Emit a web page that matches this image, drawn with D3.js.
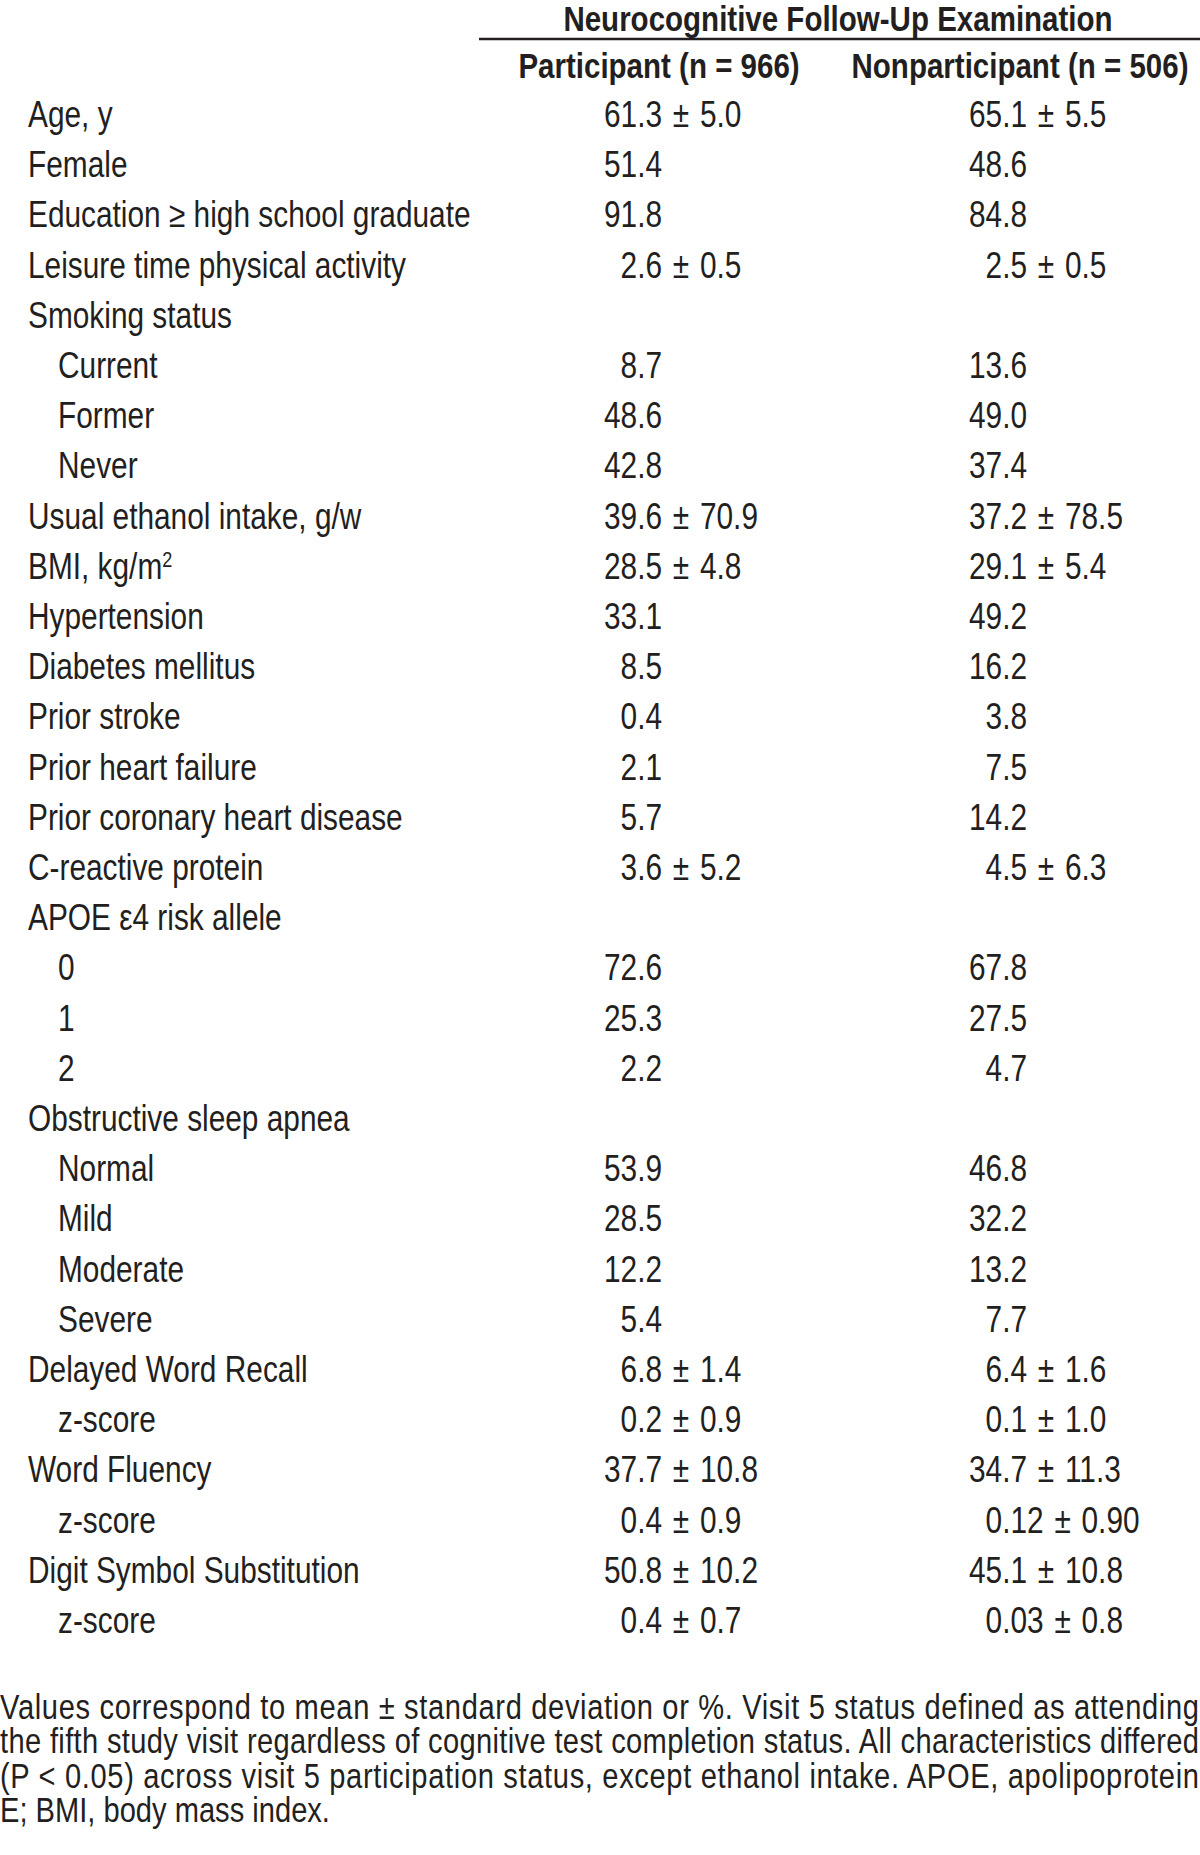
<!DOCTYPE html>
<html>
<head>
<meta charset="utf-8">
<script src="https://cdn.jsdelivr.net/npm/d3@7"></script>
<style>
  body { margin: 0; background: #fff; }
</style>
</head>
<body>
<div id="table"></div>
<script>
// row labels, indent level and the two value columns
var labels = ["Age, y", "Female", "Education \u2265 high school graduate", "Leisure time physical activity",
  "Smoking status", "Current", "Former", "Never", "Usual ethanol intake, g/w", "BMI, kg/m", "Hypertension",
  "Diabetes mellitus", "Prior stroke", "Prior heart failure", "Prior coronary heart disease", "C-reactive protein",
  "APOE \u03b54 risk allele", "0", "1", "2", "Obstructive sleep apnea", "Normal", "Mild", "Moderate", "Severe",
  "Delayed Word Recall", "z-score", "Word Fluency", "z-score", "Digit Symbol Substitution", "z-score"];
var indent = [0,0,0,0,0,1,1,1,0,0,0,0,0,0,0,0,0,1,1,1,0,1,1,1,1,0,1,0,1,0,1];
var participant = ["61.3 \u00b1 5.0", "51.4", "91.8", "2.6 \u00b1 0.5", "", "8.7", "48.6", "42.8", "39.6 \u00b1 70.9",
  "28.5 \u00b1 4.8", "33.1", "8.5", "0.4", "2.1", "5.7", "3.6 \u00b1 5.2", "", "72.6", "25.3", "2.2", "", "53.9",
  "28.5", "12.2", "5.4", "6.8 \u00b1 1.4", "0.2 \u00b1 0.9", "37.7 \u00b1 10.8", "0.4 \u00b1 0.9", "50.8 \u00b1 10.2", "0.4 \u00b1 0.7"];
var nonparticipant = ["65.1 \u00b1 5.5", "48.6", "84.8", "2.5 \u00b1 0.5", "", "13.6", "49.0", "37.4", "37.2 \u00b1 78.5",
  "29.1 \u00b1 5.4", "49.2", "16.2", "3.8", "7.5", "14.2", "4.5 \u00b1 6.3", "", "67.8", "27.5", "4.7", "", "46.8",
  "32.2", "13.2", "7.7", "6.4 \u00b1 1.6", "0.1 \u00b1 1.0", "34.7 \u00b1 11.3", "0.12 \u00b1 0.90", "45.1 \u00b1 10.8", "0.03 \u00b1 0.8"];
var title = "Neurocognitive Follow-Up Examination";
var headers = ["Participant (n = 966)", "Nonparticipant (n = 506)"];
var footnote = ["Values correspond to mean \u00b1 standard deviation or %. Visit 5 status defined as attending",
  "the fifth study visit regardless of cognitive test completion status. All characteristics differed",
  "(P < 0.05) across visit 5 participation status, except ethanol intake. APOE, apolipoprotein",
  "E; BMI, body mass index."];

var width = 1200, height = 1855;
var ink = "#231f20";
var fs = 36.4;

// narrow font check, otherwise squeeze Liberation Sans
function hasFont(name) {
    var c = document.createElement("canvas").getContext("2d");
    c.font = "40px monospace";
    var a = c.measureText("abcdefghijklmnopqrstuvwxyz").width;
    c.font = "40px '" + name + "', monospace";
    var b = c.measureText("abcdefghijklmnopqrstuvwxyz").width;
    return a !== b;
}
var narrow = hasFont("Liberation Sans Narrow");
var family = narrow ? "'Liberation Sans Narrow'" : "'Liberation Sans', Arial";
var sx = narrow ? 1 : 0.82;

var svg = d3.select("#table").append("svg")
    .attr("width", width)
    .attr("height", height)
    .style("font-family", family)
    .style("fill", ink);

function put(sel, x, y) {
    return sel.attr("transform", "translate(" + x + "," + y + ") scale(" + sx + ",1)");
}

// Row positions
var y = d3.scalePoint()
    .domain(d3.range(labels.length))
    .range([127, 1633]);

// Column positions
var cols = d3.scaleOrdinal()
    .domain(["label", "indent", "p", "n"])
    .range([28, 58, 604, 969]);

// Header
put(svg.append("text"), 838, 31)
    .attr("text-anchor", "middle")
    .style("font-size", "36px")
    .style("font-weight", "bold")
    .text(title);

svg.append("line")
    .attr("x1", 479).attr("x2", 1200)
    .attr("y1", 39).attr("y2", 39)
    .attr("stroke", ink)
    .attr("stroke-width", 2.5);

svg.selectAll(".head")
    .data(headers)
    .enter()
    .append("text")
    .attr("class", "head")
    .attr("text-anchor", "middle")
    .style("font-size", "36px")
    .style("font-weight", "bold")
    .each(function(d, i) { put(d3.select(this), [659, 1020][i], 78); })
    .text((d) => d);

// Labels
var lab = svg.selectAll(".label")
    .data(labels)
    .enter()
    .append("text")
    .attr("class", "label")
    .style("font-size", fs + "px")
    .each(function(d, i) { put(d3.select(this), indent[i] ? cols("indent") : cols("label"), y(i)); });

lab.append("tspan").text((d) => d);
lab.filter((d) => d === "BMI, kg/m")
    .append("tspan")
    .attr("dy", -12)
    .style("font-size", "22px")
    .text("2");

// digit width for decimal alignment
var probe = svg.append("text").style("font-size", fs + "px").text("0000000000");
var digitW = probe.node().getComputedTextLength() / 10 * sx;
probe.remove();

function drawCol(values, key) {
    svg.selectAll(".v-" + key)
        .data(values)
        .enter()
        .append("text")
        .attr("class", "v-" + key)
        .style("font-size", fs + "px")
        .style("word-spacing", "3px")
        .each(function(d, i) {
            var intLen = d.split(".")[0].length;
            put(d3.select(this), cols(key) + (2 - intLen) * digitW, y(i));
        })
        .text((d) => d);
}
drawCol(participant, "p");
drawCol(nonparticipant, "n");

// Footnote (justified lines)
svg.selectAll(".note")
    .data(footnote)
    .enter()
    .append("text")
    .attr("class", "note")
    .style("font-size", "35.5px")
    .each(function(d, i) {
        var t = put(d3.select(this), 0, 1719 + i * 34.4);
        if (i < footnote.length - 1) {
            t.attr("textLength", 1199 / sx).attr("lengthAdjust", "spacing");
        }
    })
    .text((d) => d);
</script>
</body>
</html>
